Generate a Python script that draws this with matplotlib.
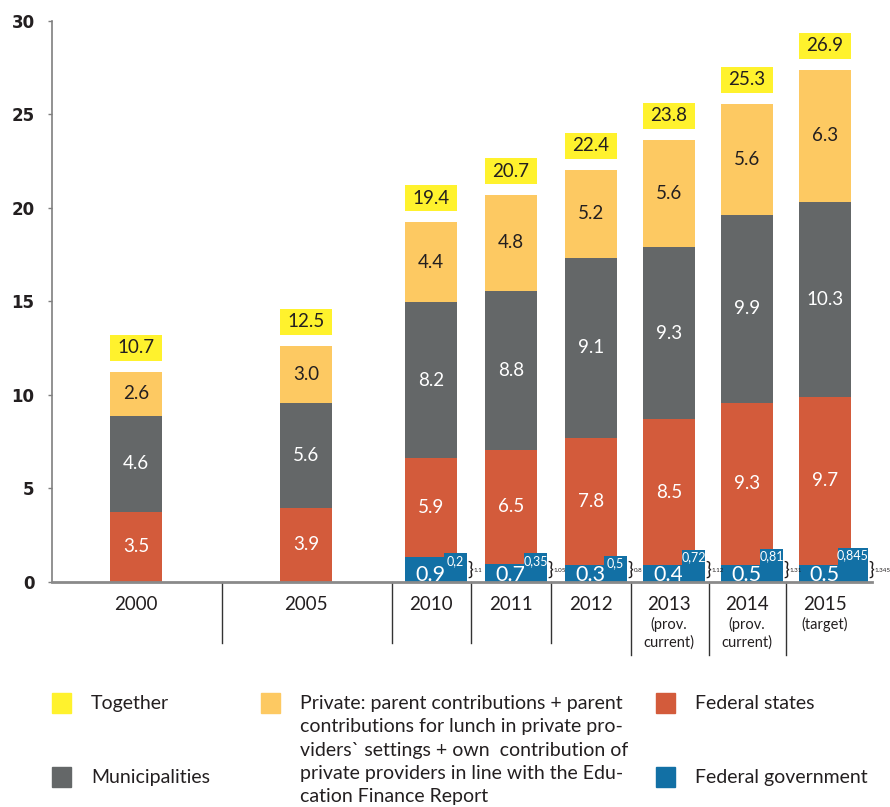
import matplotlib
matplotlib.use("Agg")
import matplotlib.pyplot as plt
from matplotlib.patches import Rectangle

# Data
years = ["2000", "2005", "2010", "2011", "2012", "2013", "2014", "2015"]
year_notes = ["", "", "", "", "", "(prov.\ncurrent)", "(prov.\ncurrent)", "(target)"]

# segment heights as drawn in the picture
federal_gov = [0, 0, 1.35, 0.96, 0.91, 0.91, 0.91, 0.91]
federal_states = [3.76, 3.98, 5.30, 6.10, 6.81, 7.80, 8.68, 9.00]
municipalities = [5.12, 5.61, 8.29, 8.51, 9.58, 9.18, 10.05, 10.38]
private = [2.36, 3.05, 4.28, 5.10, 4.74, 5.76, 5.93, 7.10]

# printed labels
gov_labels = ["", "", "0.9", "0.7", "0.3", "0.4", "0.5", "0.5"]
states_labels = ["3.5", "3.9", "5.9", "6.5", "7.8", "8.5", "9.3", "9.7"]
muni_labels = ["4.6", "5.6", "8.2", "8.8", "9.1", "9.3", "9.9", "10.3"]
private_labels = ["2.6", "3.0", "4.4", "4.8", "5.2", "5.6", "5.6", "6.3"]
total_labels = ["10.7", "12.5", "19.4", "20.7", "22.4", "23.8", "25.3", "26.9"]

# extra federal share (small boxes) and their sums
extra_gov = [0, 0, 1.54, 1.54, 1.41, 1.71, 1.78, 1.84]
extra_labels = ["", "", "0,2", "0,35", "0,5", "0,72", "0,81", "0,845"]
sum_labels = ["", "", "1.1", "1.05", "0.8", "1.12", "1.31", "1.345"]

# layout (pixel-like x units)
xpos = [136, 306, 431, 511, 591, 669, 747, 825]
bar_w = 52
extra_w = [23, 23, 23, 23, 23, 23, 23, 30]
seps = [221.7, 392, 471, 551, 631, 709, 786]
sep_len = [61, 61, 61, 61, 73, 73, 73]

c_yellow = "#FFF22D"
c_private = "#FDC962"
c_muni = "#646768"
c_states = "#D35B3B"
c_gov = "#1270A5"
c_text = "#231F20"
lato = ["Lato", "DejaVu Sans"]

W, H = 890, 807
fig = plt.figure(figsize=(W / 100, H / 100), dpi=100)
ax = fig.add_axes([52 / W, 1 - 582 / H, (872 - 52) / W, (582 - 20.7) / H])
ax.set_xlim(52, 872)
ax.set_ylim(0, 30)
px = 30 / (582 - 20.7)  # data units per pixel

b1 = [g + s for g, s in zip(federal_gov, federal_states)]
b2 = [a + m for a, m in zip(b1, municipalities)]
tops = [a + p for a, p in zip(b2, private)]

ax.bar(xpos, federal_gov, bar_w, color=c_gov, zorder=2)
ax.bar(xpos, federal_states, bar_w, bottom=federal_gov, color=c_states, zorder=2)
ax.bar(xpos, municipalities, bar_w, bottom=b1, color=c_muni, zorder=2)
ax.bar(xpos, private, bar_w, bottom=b2, color=c_private, zorder=2)

# total boxes
box_h = 26 * px
box_gap = 11 * px
ax.bar(xpos, [box_h] * len(xpos), bar_w, bottom=[t + box_gap for t in tops],
       color=c_yellow, zorder=2)

fs = 13.5
for i, x in enumerate(xpos):
    ax.text(x, tops[i] + box_gap + box_h / 2, total_labels[i], ha="center", va="center",
            fontsize=fs, family=lato, color=c_text, zorder=4)
    ax.text(x, federal_gov[i] + federal_states[i] / 2, states_labels[i], ha="center",
            va="center", fontsize=fs, family=lato, color="white", zorder=4)
    ax.text(x, b1[i] + municipalities[i] / 2, muni_labels[i], ha="center",
            va="center", fontsize=fs, family=lato, color="white", zorder=4)
    ax.text(x, b2[i] + private[i] / 2, private_labels[i], ha="center",
            va="center", fontsize=fs, family=lato, color=c_text, zorder=4)
    if gov_labels[i]:
        ax.text(x - 1, 1 * px, gov_labels[i], ha="center", va="baseline",
                fontsize=15.5, family=lato, color="white", zorder=3)
    if extra_labels[i]:
        left = x + bar_w / 2 - 13
        ax.bar(left, extra_gov[i], extra_w[i], align="edge", color=c_gov, zorder=5)
        ax.text(left + extra_w[i] / 2, extra_gov[i] - 1.5 * px, extra_labels[i],
                ha="center", va="top", fontsize=9, family=lato, color="white", zorder=6)
        r = left + extra_w[i]
        ax.text(r + 0.5, 13 * px, "}", ha="left", va="center", fontsize=14,
                family=lato, color=c_text, zorder=6, clip_on=False)
        ax.text(r + 6.5, 12 * px, sum_labels[i], ha="left", va="center", fontsize=4.5,
                family=lato, color=c_text, zorder=6, clip_on=False)

# category labels and separators below axis
ah = 582 - 20.7
trans = ax.get_xaxis_transform()
for i, x in enumerate(xpos):
    ax.text(x, -(605 - 582) / ah, years[i], transform=trans, ha="center", va="center",
            fontsize=13.5, family=lato, color=c_text)
    if year_notes[i]:
        ax.text(x, -(617 - 582) / ah, year_notes[i], transform=trans, ha="center",
                va="top", fontsize=10.5, family=lato, color=c_text, linespacing=1.25)
for s, ln in zip(seps, sep_len):
    ax.plot([s, s], [0, -ln / ah], transform=trans, color="#333333", lw=1,
            clip_on=False)

# axes styling
for sp in ["top", "right"]:
    ax.spines[sp].set_visible(False)
ax.spines["left"].set_color("#7f7f7f")
ax.spines["left"].set_linewidth(1.2)
ax.spines["bottom"].set_color("#8a8a8a")
ax.spines["bottom"].set_linewidth(2)
ax.spines["bottom"].set_zorder(6)
ax.set_xticks([])
ax.set_yticks([0, 5, 10, 15, 20, 25, 30])
ax.tick_params(axis="y", length=3, width=1, color="#7f7f7f", pad=9.5)
for lab in ax.get_yticklabels():
    lab.set_fontweight("bold")
    lab.set_fontsize(12)
    lab.set_color(c_text)

# legend (figure pixel space)
lg = fig.add_axes([0, 0, 1, 1], zorder=-1)
lg.set_xlim(0, W)
lg.set_ylim(H, 0)
lg.axis("off")
legend_items = [
    (52, 703, c_yellow, "Together"),
    (52, 777, c_muni, "Municipalities"),
    (261, 703, c_private, "Private: parent contributions + parent\n"
                          "contributions for lunch in private pro-\n"
                          "viders` settings + own  contribution of\n"
                          "private providers in line with the Edu-\n"
                          "cation Finance Report"),
    (656, 703, c_states, "Federal states"),
    (656, 777, c_gov, "Federal government"),
]
for lx, ly, col, txt in legend_items:
    lg.add_patch(Rectangle((lx, ly - 10), 19, 20, color=col))
    lg.text(lx + 39, ly - 8, txt, ha="left", va="top", fontsize=14, family=lato,
            color=c_text, linespacing=1.45)

fig.savefig("out.png", dpi=100)
